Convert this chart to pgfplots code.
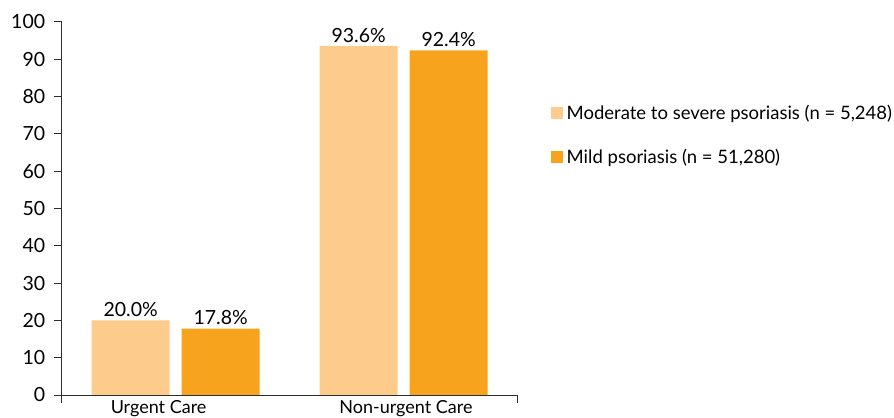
\documentclass[border=0pt]{standalone}
\usepackage{pgfplots}
\pgfplotsset{compat=1.18}
\usepackage{fontspec}
\setmainfont[Numbers={Monospaced,Lining}]{Lato}

\definecolor{lightorange}{RGB}{253,203,140}
\definecolor{darkorange}{RGB}{248,163,30}
\definecolor{axisgray}{RGB}{45,45,45}

\begin{document}
\begin{tikzpicture}
\begin{axis}[
  scale only axis,
  width=456bp, height=373bp,
  xmin=-0.5, xmax=1.5, ymin=0, ymax=100,
  axis x line=bottom, axis y line=left,
  axis line style={-, axisgray, line width=1bp},
  tick align=outside,
  major tick length=8bp,
  tick style={axisgray, line width=1bp},
  /pgf/number format/assume math mode=true,
  ytick={0,10,...,100},
  yticklabel style={font=\fontsize{19.5bp}{22bp}\selectfont, text=black, xshift=-5bp},
  % group boundaries carry the visible ticks
  xtick={-0.5,1.5}, xticklabels={},
  % category names, set under their groups
  extra x ticks={-0.075,1.01},
  extra x tick labels={Urgent Care, Non-urgent Care},
  extra x tick style={major tick length=0pt,
    xticklabel style={font=\fontsize{18bp}{21bp}\selectfont, text=black,
      inner sep=0pt, yshift=-5bp}},
  ybar, bar width=78bp,
  nodes near coords={\pgfmathprintnumber[fixed,fixed zerofill,precision=1]{\pgfplotspointmeta}\%},
  every node near coord/.append style={font=\fontsize{19.5bp}{22bp}\selectfont, text=black},
  legend style={draw=none, fill=none, at={(1.073,0.783)}, anchor=north west,
    font=\fontsize{18.5bp}{21bp}\selectfont, row sep=24bp, inner sep=0pt,
    legend cell align=left},
  legend image code/.code={\fill[#1] (0bp,-5.75bp) rectangle (11.5bp,5.75bp);
    \path (13.5bp,0bp);},
]
\addplot[fill=lightorange, draw=none, bar shift=-45bp] coordinates {(0,20.0) (1,93.6)};
\addlegendentry{Moderate to severe psoriasis (n = 5,248)}
\addplot[fill=darkorange, draw=none, bar shift=45bp] coordinates {(0,17.8) (1,92.4)};
\addlegendentry{Mild psoriasis (n = 51,280)}
\end{axis}
\pgfresetboundingbox
\path[use as bounding box] (-61.7bp,-23bp) rectangle (832.3bp,395bp);
\end{tikzpicture}
\end{document}
